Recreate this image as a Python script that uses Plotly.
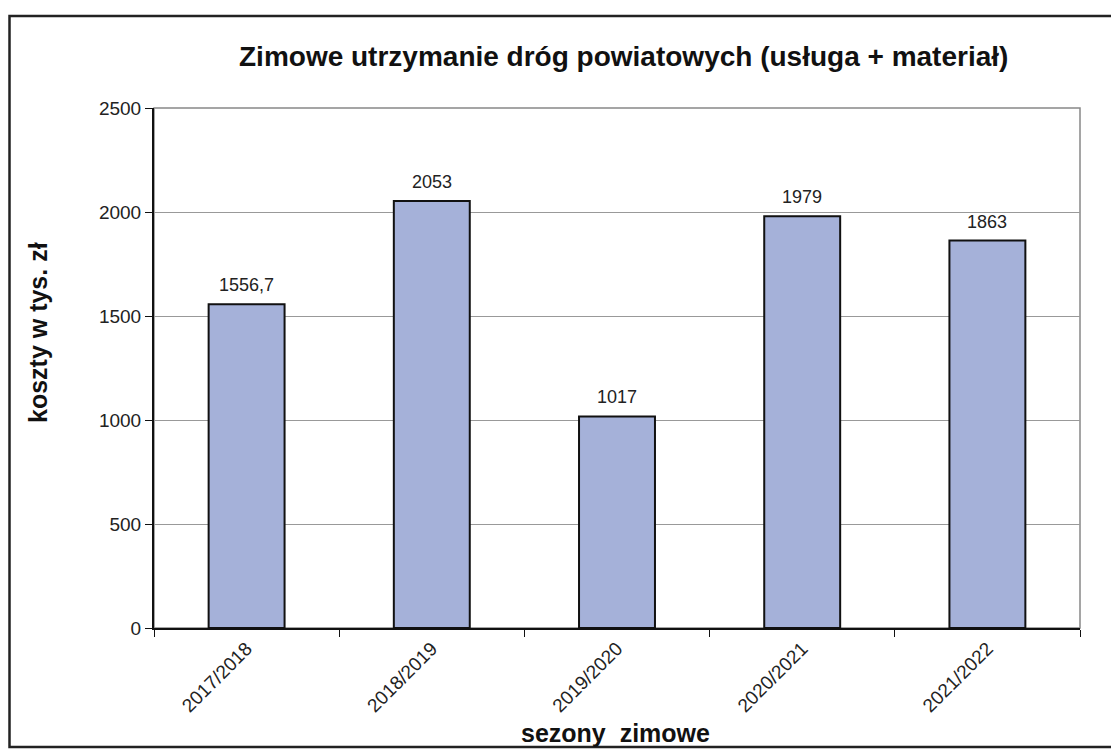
import plotly.graph_objects as go

seasons = ["2017/2018", "2018/2019", "2019/2020", "2020/2021", "2021/2022"]
costs = [1556.7, 2053, 1017, 1979, 1863]
cost_labels = ["1556,7", "2053", "1017", "1979", "1863"]
y_ticks = [0, 500, 1000, 1500, 2000, 2500]

FONT = "Liberation Sans, Arial, sans-serif"

# page offset of the figure (default body margin) and target screen layout
OFF = 8
W, H = 1119 - OFF, 751 - OFF
L, R, T, B = 154, 1080, 108, 628   # plot area in screen pixels
PW, PH = R - L, B - T

def px_x(x):
    return (x - L) / PW

def px_y(y):
    return (B - y) / PH

fig = go.Figure()
fig.add_trace(go.Bar(
    x=seasons, y=costs,
    marker=dict(color="#a5b1d9", line=dict(color="#111", width=2)),
    hoverinfo="skip",
))
for s, v, lab in zip(seasons, costs, cost_labels):
    fig.add_annotation(x=s, y=v, text=lab, showarrow=False, yanchor="bottom",
                       yshift=7, font=dict(family=FONT, size=18, color="#222"))

fig.add_annotation(xref="paper", yref="paper", x=px_x(623), y=px_y(57),
                   text="<b>Zimowe utrzymanie dróg powiatowych (usługa + materiał)</b>",
                   showarrow=False, xanchor="center", yanchor="middle",
                   font=dict(family=FONT, size=28, color="#111"))
fig.add_annotation(xref="paper", yref="paper", x=px_x(615), y=px_y(733),
                   text="<b>sezony  zimowe</b>", showarrow=False,
                   xanchor="center", yanchor="middle",
                   font=dict(family=FONT, size=25, color="#111"))
fig.add_annotation(xref="paper", yref="paper", x=px_x(38), y=px_y(333),
                   text="<b>koszty w tys. zł</b>", showarrow=False, textangle=-90,
                   xanchor="center", yanchor="middle",
                   font=dict(family=FONT, size=25, color="#111"))

fig.update_layout(
    width=W, height=H,
    paper_bgcolor="white", plot_bgcolor="white",
    margin=dict(l=L - OFF, r=W - (R - OFF), t=T - OFF, b=H - (B - OFF), autoexpand=False),
    bargap=0.59,
    showlegend=False,
    font=dict(family=FONT, color="#222"),
)
# outer frame
fig.add_shape(type="rect", xref="paper", yref="paper",
              x0=px_x(OFF + 1.5), x1=px_x(1117), y0=px_y(747), y1=px_y(16),
              line=dict(color="#222", width=2.5), layer="below")
# plot area border (grey)
fig.add_shape(type="rect", xref="x domain", yref="y domain", x0=0, x1=1, y0=0, y1=1,
              layer="below", line=dict(color="#888", width=1.5))

fig.update_xaxes(
    showline=True, linecolor="#111", linewidth=2,
    ticks="outside", ticklen=7, tickcolor="#111", tickson="boundaries",
    tickangle=-45, tickfont=dict(family=FONT, size=19, color="#222"),
    showgrid=False, automargin=False,
)
fig.update_yaxes(
    range=[0, 2500], tickvals=y_ticks,
    showline=True, linecolor="#111", linewidth=2,
    ticks="outside", ticklen=7, tickcolor="#111",
    tickfont=dict(family=FONT, size=19, color="#222"),
    showgrid=True, gridcolor="#999", gridwidth=1.2,
    zeroline=False, automargin=False,
)

fig.write_html("out.html")
